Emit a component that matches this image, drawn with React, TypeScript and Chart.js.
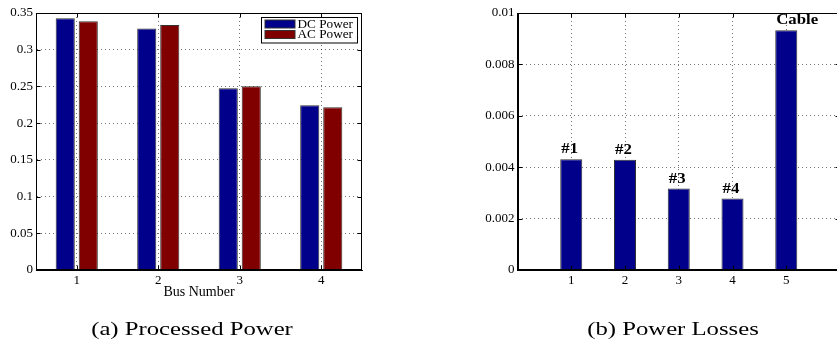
import React, { useEffect, useRef } from "react";
import { Chart, registerables } from "chart.js";

Chart.register(...registerables);

// ---------- data ----------
const busCategories = ["1", "2", "3", "4"];
const dcPower = [0.3428, 0.329, 0.2474, 0.2243];
const acPower = [0.3387, 0.3337, 0.2502, 0.2216];
const processedYMax = 0.35;
const processedYStep = 0.05;
const processedXTitle = "Bus Number";
const processedCaption = "(a) Processed Power";

const lossCategories = ["1", "2", "3", "4", "5"];
const lossValues = [0.00431, 0.00429, 0.00317, 0.00278, 0.00933];
const lossBarLabels = ["#1", "#2", "#3", "#4", "Cable"];
const lossYMax = 0.01;
const lossYStep = 0.002;
const lossCaption = "(b) Power Losses";

// ---------- styles ----------
const SERIF = "'Liberation Serif', 'Times New Roman', serif";
const BLUE = "#00008b";
const RED = "#800000";
const EDGE = "#333333";
const GRID = "rgba(0,0,0,0.55)";

const fmt = (v: any) => String(+Number(v).toFixed(6));

const framePlugin = {
  id: "frame",
  afterDatasetsDraw(chart: any) {
    const { ctx, chartArea: a } = chart;
    const l = Math.round(a.left) + 0.5;
    const t = Math.round(a.top) + 0.5;
    const r = Math.round(a.right) - 0.5;
    const b = Math.round(a.bottom) - 0.5;
    ctx.save();
    ctx.strokeStyle = "#000";
    ctx.lineWidth = 1;
    ctx.setLineDash([]);
    ctx.strokeRect(l, t, r - l, b - t);
    const ys = chart.scales.y;
    ctx.beginPath();
    ys.ticks.forEach((_: any, i: number) => {
      const py = Math.round(ys.getPixelForTick(i)) + 0.5;
      ctx.moveTo(l, py);
      ctx.lineTo(l + 4, py);
      ctx.moveTo(r, py);
      ctx.lineTo(r - 4, py);
    });
    const xs = chart.scales.x;
    xs.ticks.forEach((tk: any, i: number) => {
      if (!tk.label) return;
      const px = Math.round(xs.getPixelForTick(i)) + 0.5;
      ctx.moveTo(px, b);
      ctx.lineTo(px, b - 4);
      ctx.moveTo(px, t);
      ctx.lineTo(px, t + 4);
    });
    ctx.stroke();
    ctx.restore();
  },
};

const legendBoxPlugin = {
  id: "legendBox",
  afterDraw(chart: any) {
    const { ctx, chartArea: a } = chart;
    const sets = chart.data.datasets;
    const sx = 1.15;
    ctx.save();
    ctx.font = `11.5px ${SERIF}`;
    const textW =
      Math.max(...sets.map((d: any) => ctx.measureText(d.label).width)) * sx;
    const padL = 3.5;
    const sw = 30;
    const gap = 2.5;
    const padR = 5;
    const rowH = 10.5;
    const padT = 2.5;
    const w = Math.round(padL + sw + gap + textW + padR);
    const h = padT * 2 + rowH * sets.length - 0.5;
    const right = Math.round(a.right) - 4.5;
    const top = Math.round(a.top) + 4.5;
    const left = right - w;
    ctx.fillStyle = "#fff";
    ctx.fillRect(left, top, w, h);
    ctx.strokeStyle = "#000";
    ctx.lineWidth = 1;
    ctx.strokeRect(left, top, w, h);
    sets.forEach((d: any, i: number) => {
      const y0 = top + padT + i * rowH;
      ctx.fillStyle = d.backgroundColor;
      ctx.fillRect(left + padL, y0, sw, 8);
      ctx.strokeStyle = EDGE;
      ctx.strokeRect(left + padL, y0, sw, 8);
      ctx.fillStyle = "#000";
      ctx.save();
      ctx.translate(left + padL + sw + gap, y0 + 7.5);
      ctx.scale(sx, 1);
      ctx.textBaseline = "alphabetic";
      ctx.fillText(d.label, 0, 0);
      ctx.restore();
    });
    ctx.restore();
  },
};

const barLabelPlugin = {
  id: "barLabels",
  afterDatasetsDraw(chart: any) {
    const { ctx } = chart;
    const labels: string[] = chart.options.plugins.barLabels.labels;
    const meta = chart.getDatasetMeta(0);
    ctx.save();
    ctx.font = `bold 14px ${SERIF}`;
    ctx.fillStyle = "#000";
    ctx.textBaseline = "alphabetic";
    ctx.textAlign = "left";
    meta.data.forEach((el: any, i: number) => {
      const text = labels[i];
      if (!text) return;
      const { x, y, width } = el.getProps(["x", "y", "width"], true);
      ctx.save();
      ctx.translate(x - width / 2 + 1, y - 6);
      ctx.scale(1.2, 1);
      ctx.fillText(text, 0, 0);
      ctx.restore();
    });
    ctx.restore();
  },
};

const tickFont = { family: SERIF, size: 13 };

function ProcessedChart() {
  const ref = useRef<HTMLCanvasElement>(null);
  useEffect(() => {
    const chart = new Chart(ref.current as HTMLCanvasElement, {
      type: "bar",
      data: {
        labels: busCategories,
        datasets: [
          {
            label: "DC Power",
            data: dcPower,
            backgroundColor: BLUE,
            borderColor: EDGE,
            borderWidth: 1,
          },
          {
            label: "AC Power",
            data: acPower,
            backgroundColor: RED,
            borderColor: EDGE,
            borderWidth: 1,
          },
        ],
      },
      options: {
        responsive: false,
        animation: false,
        events: [],
        layout: { padding: { left: 0, right: 58, top: 13, bottom: 0 } },
        datasets: { bar: { categoryPercentage: 0.565, barPercentage: 0.83 } },
        plugins: { legend: { display: false }, tooltip: { enabled: false } },
        scales: {
          x: {
            offset: true,
            grid: { offset: false, color: GRID, drawTicks: false, borderDash: [1, 3] },
            border: { color: "#000", width: 1, dash: [1, 3] },
            ticks: { font: tickFont, color: "#000", padding: 3 },
            title: {
              display: true,
              text: processedXTitle,
              font: { family: SERIF, size: 14 },
              color: "#000",
              padding: { top: 0, bottom: 41 },
            },
            afterFit: (s: any) => {
              s.height = 72;
            },
          },
          y: {
            min: 0,
            max: processedYMax,
            grid: { color: GRID, drawTicks: false, borderDash: [1, 3] },
            border: { color: "#000", width: 1, dash: [1, 3] },
            ticks: {
              stepSize: processedYStep,
              font: tickFont,
              color: "#000",
              padding: 3,
              callback: fmt,
            },
            afterFit: (s: any) => {
              s.width = 36;
            },
          },
        },
      } as any,
      plugins: [framePlugin, legendBoxPlugin],
    });
    return () => chart.destroy();
  }, []);
  return (
    <canvas
      ref={ref}
      width={420}
      height={342}
      style={{ position: "absolute", left: 0, top: 0, width: 420, height: 342 }}
    />
  );
}

function LossChart() {
  const ref = useRef<HTMLCanvasElement>(null);
  useEffect(() => {
    const labels = ["", ...lossCategories, ""];
    const data = [null, ...lossValues, null];
    const barLabels = ["", ...lossBarLabels, ""];
    const chart = new Chart(ref.current as HTMLCanvasElement, {
      type: "bar",
      data: {
        labels,
        datasets: [
          {
            label: "Power Losses",
            data,
            backgroundColor: BLUE,
            borderColor: EDGE,
            borderWidth: 1,
          },
        ],
      },
      options: {
        responsive: false,
        animation: false,
        events: [],
        layout: { padding: { left: 0, right: 0, top: 13, bottom: 0 } },
        datasets: { bar: { categoryPercentage: 1, barPercentage: 0.41 } },
        plugins: {
          legend: { display: false },
          tooltip: { enabled: false },
          barLabels: { labels: barLabels },
        },
        scales: {
          x: {
            offset: false,
            grid: { offset: false, color: GRID, drawTicks: false, borderDash: [1, 3] },
            border: { color: "#000", width: 1, dash: [1, 3] },
            ticks: { font: tickFont, color: "#000", padding: 3, autoSkip: false, maxRotation: 0 },
            afterFit: (s: any) => {
              s.height = 72;
            },
          },
          y: {
            min: 0,
            max: lossYMax,
            grid: { color: GRID, drawTicks: false, borderDash: [1, 3] },
            border: { color: "#000", width: 1, dash: [1, 3] },
            ticks: {
              stepSize: lossYStep,
              font: tickFont,
              color: "#000",
              padding: 3,
              callback: fmt,
            },
            afterFit: (s: any) => {
              s.width = 97.5;
            },
          },
        },
      } as any,
      plugins: [framePlugin, barLabelPlugin],
    });
    return () => chart.destroy();
  }, []);
  return (
    <canvas
      ref={ref}
      width={423}
      height={342}
      style={{ position: "absolute", left: 420, top: 0, width: 423, height: 342 }}
    />
  );
}

const captionStyle: React.CSSProperties = {
  position: "absolute",
  top: 319,
  width: 300,
  fontFamily: SERIF,
  fontSize: 19,
  lineHeight: "19px",
  textAlign: "center",
  color: "#000",
  transform: "scaleX(1.3)",
  transformOrigin: "center",
  whiteSpace: "nowrap",
};

export default function App() {
  return (
    <div
      style={{
        position: "absolute",
        left: 0,
        top: 0,
        width: 837,
        height: 342,
        overflow: "hidden",
        background: "#fff",
      }}
    >
      <ProcessedChart />
      <LossChart />
      <div style={{ ...captionStyle, left: 191.5 - 150 }}>{processedCaption}</div>
      <div style={{ ...captionStyle, left: 673 - 150 }}>{lossCaption}</div>
    </div>
  );
}
